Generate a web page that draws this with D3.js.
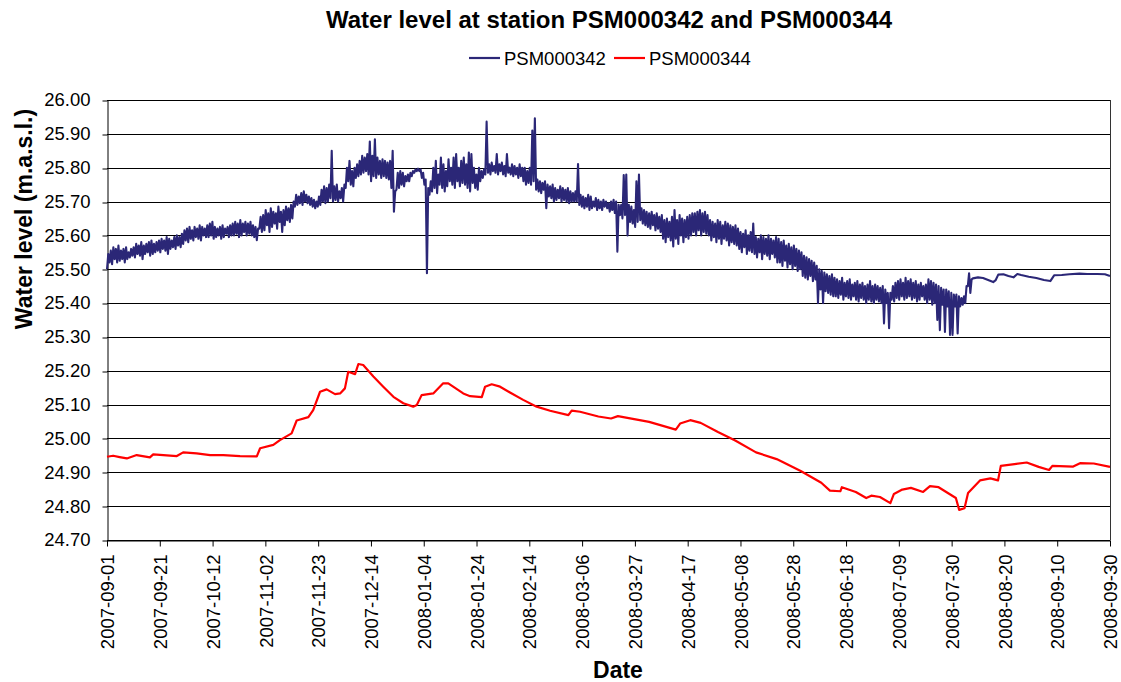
<!DOCTYPE html>
<html><head><meta charset="utf-8">
<script src="https://cdn.jsdelivr.net/npm/d3@7"></script>
<style>
body{margin:0;background:#fff}
svg{display:block;font-family:"Liberation Sans",Arial,sans-serif}
</style>
</head><body>
<svg id="chart" width="1121" height="682"></svg>
<script>
// ---------- data ----------
const chartTitle = "Water level at station PSM000342 and PSM000344";
const seriesNames = ["PSM000342", "PSM000344"];
const yTicks = [24.70, 24.80, 24.90, 25.00, 25.10, 25.20, 25.30, 25.40, 25.50, 25.60, 25.70, 25.80, 25.90, 26.00];
const xTickLabels = ["2007-09-01","2007-09-21","2007-10-12","2007-11-02","2007-11-23","2007-12-14","2008-01-04","2008-01-24","2008-02-14","2008-03-06","2008-03-27","2008-04-17","2008-05-08","2008-05-28","2008-06-18","2008-07-09","2008-07-30","2008-08-20","2008-09-10","2008-09-30"];
const startDate = "2007-09-01";
const endDate = "2008-09-30";

// PSM000342: daily low / high readings (day 0 = 2007-09-01), days 0..340
const blueLow = [
25.50,25.52,25.515,25.53,25.52,25.525,25.53,25.52,25.53,25.535,
25.54,25.535,25.545,25.54,25.53,25.545,25.55,25.54,25.545,25.55,
25.555,25.55,25.56,25.555,25.545,25.56,25.565,25.56,25.57,25.565,
25.575,25.585,25.58,25.59,25.585,25.595,25.59,25.585,25.60,25.595,
25.595,25.60,25.59,25.595,25.60,25.59,25.595,25.605,25.595,25.60,
25.60,25.605,25.595,25.60,25.61,25.60,25.605,25.60,25.595,25.586,
25.62,25.61,25.615,25.63,25.61,25.625,25.635,25.62,25.64,25.61,
25.63,25.645,25.64,25.65,25.685,25.69,25.695,25.69,25.70,25.695,
25.69,25.685,25.68,25.685,25.69,25.70,25.695,25.70,25.71,25.70,
25.705,25.70,25.71,25.70,25.74,25.76,25.75,25.745,25.77,25.775,
25.78,25.785,25.79,25.78,25.76,25.775,25.77,25.78,25.77,25.775,
25.77,25.765,25.74,25.67,25.735,25.74,25.75,25.745,25.76,25.76,
25.775,25.785,25.79,25.79,25.77,25.75,25.488,25.72,25.73,25.74,
25.725,25.75,25.74,25.73,25.745,25.76,25.75,25.74,25.76,25.745,
25.755,25.75,25.74,25.73,25.755,25.74,25.735,25.76,25.77,25.78,
25.785,25.78,25.79,25.785,25.78,25.79,25.78,25.775,25.785,25.78,
25.775,25.78,25.77,25.775,25.76,25.75,25.755,25.75,25.76,25.735,
25.73,25.725,25.735,25.68,25.715,25.71,25.70,25.705,25.71,25.70,
25.705,25.70,25.695,25.70,25.70,25.70,25.69,25.685,25.68,25.685,
25.675,25.68,25.685,25.675,25.68,25.675,25.685,25.68,25.67,25.675,
25.666,25.552,25.66,25.65,25.66,25.60,25.64,25.635,25.625,25.64,
25.645,25.635,25.63,25.625,25.62,25.63,25.615,25.62,25.61,25.59,
25.58,25.595,25.585,25.567,25.59,25.575,25.60,25.58,25.595,25.59,
25.60,25.61,25.60,25.615,25.60,25.61,25.605,25.60,25.585,25.595,
25.58,25.59,25.575,25.59,25.585,25.57,25.58,25.575,25.57,25.56,
25.55,25.565,25.545,25.555,25.55,25.545,25.535,25.55,25.53,25.545,
25.54,25.53,25.545,25.535,25.52,25.52,25.51,25.525,25.505,25.515,
25.50,25.51,25.495,25.50,25.48,25.475,25.47,25.48,25.465,25.47,
25.40,25.44,25.40,25.435,25.43,25.425,25.42,25.42,25.415,25.425,
25.41,25.42,25.415,25.41,25.42,25.41,25.405,25.415,25.41,25.40,
25.41,25.405,25.40,25.41,25.405,25.40,25.34,25.40,25.326,25.41,
25.405,25.415,25.41,25.42,25.41,25.415,25.42,25.41,25.415,25.405,
25.41,25.42,25.41,25.40,25.41,25.395,25.40,25.35,25.32,25.395,
25.315,25.39,25.306,25.306,25.39,25.31,25.39,25.395,25.40,25.45,
25.43];
const blueHigh = [
25.545,25.555,25.565,25.56,25.57,25.555,25.56,25.565,25.55,25.56,
25.565,25.575,25.57,25.58,25.57,25.575,25.58,25.585,25.575,25.58,
25.585,25.59,25.585,25.595,25.59,25.585,25.595,25.60,25.595,25.605,
25.615,25.62,25.625,25.615,25.625,25.62,25.63,25.625,25.62,25.63,
25.635,25.64,25.625,25.62,25.625,25.63,25.62,25.625,25.63,25.635,
25.64,25.635,25.645,25.635,25.64,25.635,25.64,25.63,25.625,25.62,
25.655,25.66,25.675,25.665,25.68,25.67,25.665,25.685,25.67,25.675,
25.685,25.68,25.69,25.70,25.72,25.715,25.725,25.73,25.72,25.715,
25.71,25.705,25.70,25.715,25.735,25.745,25.74,25.75,25.85,25.745,
25.75,25.73,25.74,25.75,25.80,25.82,25.79,25.80,25.81,25.82,
25.835,25.83,25.84,25.877,25.835,25.884,25.83,25.82,25.825,25.82,
25.815,25.82,25.85,25.73,25.785,25.79,25.785,25.775,25.78,25.785,
25.79,25.795,25.797,25.795,25.785,25.765,25.74,25.76,25.80,25.82,
25.78,25.83,25.81,25.79,25.825,25.80,25.83,25.84,25.80,25.82,
25.83,25.81,25.845,25.84,25.80,25.78,25.80,25.79,25.795,25.936,
25.81,25.815,25.805,25.84,25.81,25.815,25.805,25.84,25.80,25.81,
25.805,25.80,25.81,25.80,25.80,25.79,25.80,25.91,25.946,25.765,
25.76,25.755,25.76,25.75,25.745,25.75,25.74,25.735,25.745,25.74,
25.735,25.74,25.73,25.725,25.73,25.811,25.72,25.715,25.71,25.72,
25.715,25.70,25.71,25.705,25.70,25.705,25.70,25.695,25.70,25.705,
25.70,25.69,25.69,25.778,25.78,25.69,25.685,25.675,25.76,25.78,
25.68,25.675,25.67,25.665,25.67,25.66,25.665,25.655,25.66,25.645,
25.65,25.64,25.655,25.675,25.645,25.66,25.65,25.645,25.655,25.66,
25.665,25.665,25.67,25.675,25.665,25.67,25.66,25.645,25.64,25.635,
25.645,25.64,25.63,25.64,25.635,25.63,25.625,25.63,25.62,25.61,
25.605,25.615,25.60,25.61,25.635,25.595,25.59,25.60,25.595,25.59,
25.60,25.59,25.585,25.595,25.59,25.58,25.585,25.57,25.575,25.565,
25.57,25.56,25.555,25.55,25.54,25.535,25.53,25.525,25.52,25.51,
25.50,25.495,25.49,25.485,25.48,25.485,25.475,25.47,25.465,25.475,
25.46,25.465,25.47,25.455,25.46,25.465,25.455,25.46,25.45,25.455,
25.465,25.45,25.455,25.45,25.445,25.45,25.44,25.43,25.43,25.45,
25.46,25.465,25.47,25.46,25.475,25.465,25.47,25.46,25.465,25.455,
25.46,25.45,25.455,25.47,25.465,25.46,25.455,25.45,25.445,25.44,
25.44,25.435,25.43,25.425,25.425,25.42,25.415,25.42,25.45,25.488,
25.47];
// PSM000342 after the logger change (smooth part)
const blueTailDays   = [341,343,345,347,349,350,351,353,355,357,358.5,360,363,366,369,371.5,373,376,379,383,386,390,393,395];
const blueTailValues = [25.473,25.476,25.474,25.468,25.462,25.468,25.484,25.485,25.480,25.476,25.486,25.483,25.478,25.474,25.468,25.465,25.482,25.483,25.485,25.487,25.486,25.486,25.485,25.48];

// PSM000344
const redDays = [0,2.4,5,7.8,11.7,16.9,18.2,27.5,30.0,35.3,40.6,45.8,52.4,59.0,60.3,65.5,68.1,72.7,74.7,79.3,81.2,83.9,86.5,89.8,91.8,93.7,95.0,97.7,99.0,100.9,104.9,108.8,112.8,116.7,120.6,122.0,123.9,128.5,132.4,134.4,140.3,143.0,147.6,148.9,151.5,154.8,158.7,163.9,169.2,174.5,181.7,183.0,186.3,193.5,198.5,201.2,213.5,224.0,225.7,229.7,233.8,240.6,247.4,255.6,263.7,273.2,281.3,284.7,288.8,289.4,294.9,299.0,301.0,304.4,308.5,309.9,313.2,316.6,321.4,324.1,327.5,334.3,335.6,337.7,339.1,343.8,347.9,350.9,352.0,357.4,362.2,366.9,371.0,372.3,380.5,383.2,388.6,395];
const redValues = [24.946,24.949,24.945,24.941,24.951,24.944,24.953,24.948,24.959,24.956,24.951,24.951,24.948,24.947,24.971,24.981,24.995,25.015,25.053,25.063,25.084,25.138,25.145,25.131,25.133,25.148,25.197,25.190,25.220,25.217,25.183,25.153,25.123,25.104,25.094,25.099,25.128,25.133,25.163,25.163,25.133,25.125,25.122,25.153,25.160,25.153,25.136,25.114,25.094,25.082,25.069,25.082,25.079,25.065,25.059,25.066,25.049,25.026,25.044,25.054,25.046,25.019,24.994,24.959,24.939,24.904,24.869,24.846,24.844,24.856,24.842,24.824,24.831,24.827,24.809,24.836,24.849,24.854,24.842,24.859,24.856,24.824,24.789,24.794,24.839,24.876,24.882,24.876,24.919,24.924,24.929,24.916,24.907,24.919,24.917,24.927,24.926,24.916];

// ---------- chart ----------
const BLUE = "#2b2777", RED = "#ff0000";
const svg = d3.select("#chart");
const L = 107, R = 1110, T = 100, B = 540;
const DAY = 864e5;
const t0 = d3.utcParse("%Y-%m-%d")(startDate), t1 = d3.utcParse("%Y-%m-%d")(endDate);
const dayToDate = d => new Date(t0.getTime() + d * DAY);

const x = d3.scaleUtc().domain([t0, t1]).range([L, R]);
const y = d3.scaleLinear().domain([d3.min(yTicks), d3.max(yTicks)]).range([B, T]);

// gridlines
svg.append("g").selectAll("line").data(yTicks).join("line")
  .attr("x1", L).attr("x2", R)
  .attr("y1", d => Math.round(y(d)) + 0.5).attr("y2", d => Math.round(y(d)) + 0.5)
  .attr("stroke", "#000").attr("stroke-width", 1);
// right border
svg.append("line").attr("x1", R + 0.5).attr("x2", R + 0.5).attr("y1", T).attr("y2", B)
  .attr("stroke", "#333").attr("stroke-width", 1);

// y axis
const yAxis = svg.append("g").attr("transform", `translate(${L + 0.5},0)`)
  .call(d3.axisLeft(y).tickValues(yTicks).tickFormat(d3.format(".2f")).tickSize(5).tickSizeOuter(0).tickPadding(12));
yAxis.selectAll(".tick line").attr("transform", d => `translate(0,${Math.round(y(d)) + 0.5 - y(d)})`);
yAxis.selectAll("text").attr("font-size", "18.5px").attr("font-family", "'Liberation Sans',Arial,sans-serif").attr("fill", "#000");
yAxis.select(".domain").attr("stroke", "#000");

// x axis
const n = xTickLabels.length;
const xTickDates = d3.range(n).map(k => new Date(t0.getTime() + k * (t1 - t0) / (n - 1)));
const xAxis = svg.append("g").attr("transform", `translate(0,${B + 0.5})`)
  .call(d3.axisBottom(x).tickValues(xTickDates).tickFormat((d, i) => xTickLabels[i]).tickSize(6).tickSizeOuter(0));
xAxis.selectAll("text")
  .attr("font-size", "18.5px").attr("font-family", "'Liberation Sans',Arial,sans-serif").attr("fill", "#000")
  .attr("transform", "rotate(-90)").attr("text-anchor", "end")
  .attr("x", -14).attr("y", 0).attr("dy", "0.36em");
xAxis.select(".domain").attr("stroke", "#000");

// series
const line = d3.line().x(p => x(dayToDate(p[0]))).y(p => y(p[1]));
const redPts = redDays.map((d, i) => [d, redValues[i]]);
const bluePts = [];
blueLow.forEach((lo, i) => { bluePts.push([i, lo]); bluePts.push([i + 0.5, blueHigh[i]]); });
blueTailDays.forEach((d, i) => bluePts.push([d, blueTailValues[i]]));

svg.append("path").datum(redPts).attr("d", line)
  .attr("fill", "none").attr("stroke", RED).attr("stroke-width", 2.2).attr("stroke-linejoin", "round");
svg.append("path").datum(bluePts).attr("d", line)
  .attr("fill", "none").attr("stroke", BLUE).attr("stroke-width", 2.1).attr("stroke-linejoin", "round");

// title
svg.append("text").attr("x", 609).attr("y", 28).attr("text-anchor", "middle")
  .attr("font-size", "24px").attr("font-weight", "bold").text(chartTitle);

// legend
const leg = [{name: seriesNames[0], color: BLUE, x: 469}, {name: seriesNames[1], color: RED, x: 614}];
const lg = svg.append("g").selectAll("g").data(leg).join("g").attr("transform", d => `translate(${d.x},58)`);
lg.append("line").attr("x1", 0).attr("x2", 31).attr("y1", 0).attr("y2", 0)
  .attr("stroke", d => d.color).attr("stroke-width", 2.2);
lg.append("text").attr("x", 35).attr("y", 6.8).attr("font-size", "18.5px").text(d => d.name);

// axis titles
svg.append("text").attr("transform", "translate(32,219) rotate(-90)").attr("text-anchor", "middle")
  .attr("font-size", "23px").attr("font-weight", "bold").text("Water level (m.a.s.l.)");
svg.append("text").attr("x", 618).attr("y", 678).attr("text-anchor", "middle")
  .attr("font-size", "23px").attr("font-weight", "bold").text("Date");
</script>
</body></html>
